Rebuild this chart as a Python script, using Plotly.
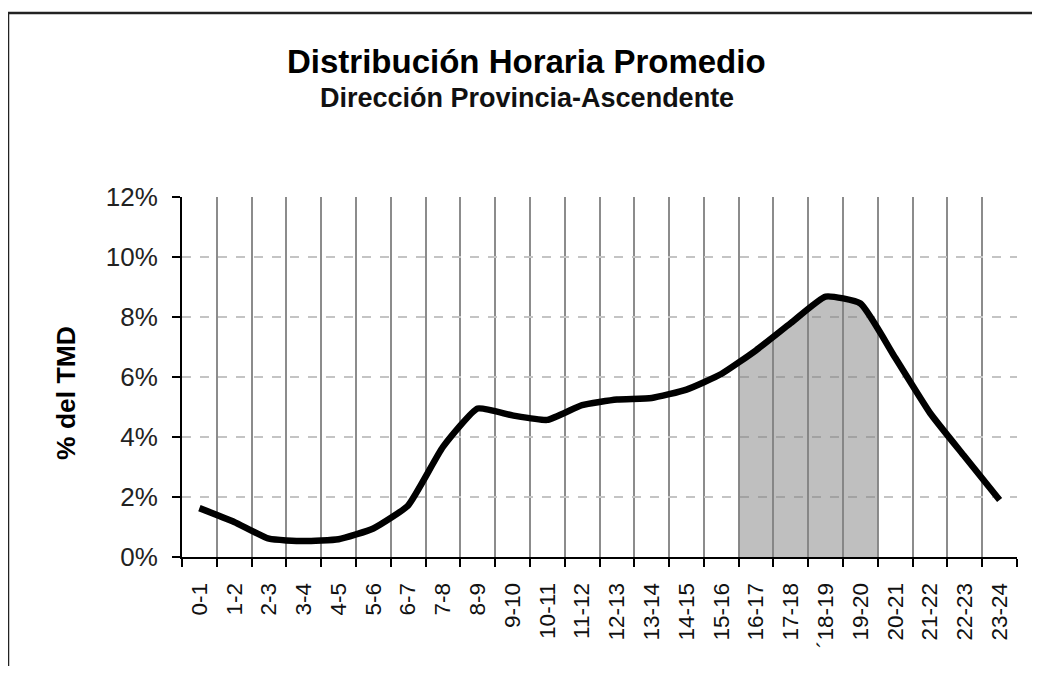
import numpy as np
import plotly.graph_objects as go

# ---- data ----
hours = ["0-1", "1-2", "2-3", "3-4", "4-5", "5-6", "6-7", "7-8", "8-9", "9-10",
         "10-11", "11-12", "12-13", "13-14", "14-15", "15-16", "16-17", "17-18",
         "´18-19", "19-20", "20-21", "21-22", "22-23", "23-24"]
pct_tmd = [1.63, 1.17, 0.61, 0.53, 0.59, 0.95, 1.72, 3.67, 4.95, 4.72,
           4.57, 5.06, 5.25, 5.30, 5.58, 6.10, 6.89, 7.80, 8.68, 8.45,
           6.64, 4.80, 3.34, 1.90]
peak_first = "16-17"
peak_last = "19-20"
y_ticks = [0, 2, 4, 6, 8, 10, 12]

title = "Distribución Horaria Promedio"
subtitle = "Dirección Provincia-Ascendente"
y_title = "% del TMD"

# ---- figure (page body has an 8px margin on every side) ----
OFF = 8
W, H = 1040 - OFF, 674 - 2 * OFF
L, T = 182 - OFF, 197 - OFF
R = W - (1017 - OFF)
B = H - (557 - OFF)
pw, ph = W - L - R, H - T - B

def px_x(p):  # screen px -> paper
    return (p - OFF - L) / pw

def px_y(p):
    return (H - B - (p - OFF)) / ph

xi = np.arange(len(hours))
i0 = hours.index(peak_first) - 0.5
i1 = hours.index(peak_last) + 0.5
sx = [i0] + [i for i in xi if i0 < i < i1] + [i1]
sy = list(np.interp(sx, xi, pct_tmd))

FONT = "Liberation Sans, Arial, sans-serif"

fig = go.Figure()
fig.add_trace(go.Scatter(
    x=sx, y=sy, mode="lines", fill="tozeroy",
    fillcolor="rgba(128,128,128,0.5)", line=dict(width=0, color="rgba(0,0,0,0)"),
    hoverinfo="skip", showlegend=False))
fig.add_trace(go.Scatter(
    x=xi, y=pct_tmd, mode="lines",
    line=dict(color="black", width=6.5, shape="spline", smoothing=0.45),
    showlegend=False))

fig.update_layout(
    width=W, height=H,
    margin=dict(l=L, r=R, t=T, b=B, autoexpand=False),
    paper_bgcolor="white", plot_bgcolor="white",
    font=dict(family=FONT, color="black"),
    showlegend=False,
)

fig.update_xaxes(
    range=[-0.5, len(hours) - 0.5],
    tickmode="array", tickvals=list(xi), ticktext=hours,
    tickangle=-90, ticks="", showgrid=False,
    tickfont=dict(size=22.5, family=FONT, color="#111"),
    ticklabelstandoff=15,
    showline=True, linecolor="black", linewidth=2,
    zeroline=False,
    minor=dict(tick0=-0.5, dtick=1, ticks="outside", ticklen=8, tickwidth=1.5,
               tickcolor="black", showgrid=True, gridcolor="#8c8c8c", gridwidth=1.5),
)
fig.update_yaxes(
    range=[0, 12],
    tickmode="array", tickvals=y_ticks, ticktext=[f"{v}%" for v in y_ticks],
    ticks="outside", ticklen=8, tickwidth=1.5, tickcolor="black",
    tickfont=dict(size=26, family=FONT, color="#222"),
    ticklabelstandoff=9,
    showgrid=False, zeroline=False,
    showline=True, linecolor="black", linewidth=2,
    minor=dict(tickmode="array", tickvals=y_ticks[1:-1], ticks="", showgrid=True,
               gridcolor="#c4c4c4", gridwidth=1.5, griddash="dash"),
)

fig.add_annotation(text=f"<b>{title}</b>", xref="paper", yref="paper",
                   x=px_x(526), y=px_y(61), xanchor="center", yanchor="middle",
                   showarrow=False, font=dict(size=33, family=FONT, color="black"))
fig.add_annotation(text=f"<b>{subtitle}</b>", xref="paper", yref="paper",
                   x=px_x(527), y=px_y(98), xanchor="center", yanchor="middle",
                   showarrow=False, font=dict(size=27, family=FONT, color="#111"))
fig.add_annotation(text=f"<b>{y_title}</b>", xref="paper", yref="paper",
                   x=px_x(66), y=px_y(393), xanchor="center", yanchor="middle",
                   textangle=-90, showarrow=False,
                   font=dict(size=26.5, family=FONT, color="black"))

# outer chart frame: top and left edges (the rest runs off the image)
frame = dict(color="#222", width=2.5)
fig.add_shape(type="line", xref="paper", yref="paper",
              x0=px_x(7), x1=px_x(1100), y0=px_y(13), y1=px_y(13), line=frame, layer="below")
fig.add_shape(type="line", xref="paper", yref="paper",
              x0=px_x(8), x1=px_x(8), y0=px_y(12), y1=px_y(720), line=frame, layer="below")

fig.write_html("out.html", config={"displayModeBar": False})
